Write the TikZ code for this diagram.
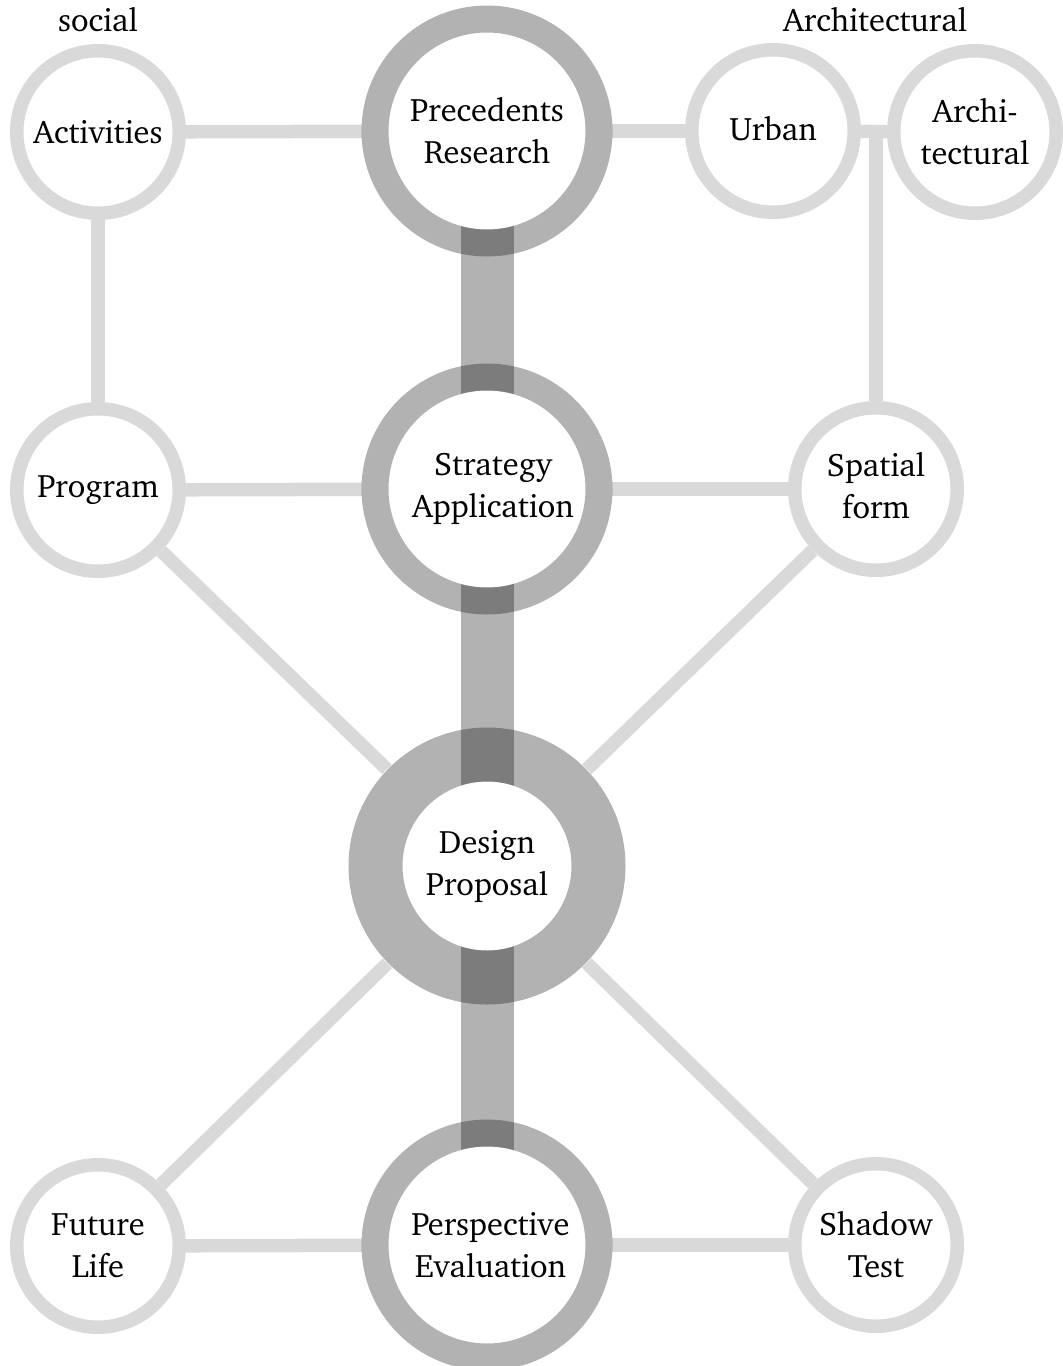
\documentclass[tikz,border=0pt]{standalone}
\usepackage[T1]{fontenc}
\usepackage{charter}
\definecolor{lightg}{HTML}{D9D9D9}
\pgfdeclarelayer{bg}
\pgfsetlayers{bg,main}
\begin{document}
\begin{tikzpicture}[x=1pt,y=-1pt,
  lbl/.style={font=\fontsize{32.5}{42}\selectfont, align=center, text=black},
  smallnode/.style={lbl, circle, minimum size=176, inner sep=0},
  bignode/.style={lbl, circle, minimum size=250, inner sep=0},
  hugenode/.style={lbl, circle, minimum size=278, inner sep=0},
  lightline/.style={draw=lightg, line width=13.5},
  darkbar/.style={draw=black, draw opacity=0.3, line width=53},
  lightring/.style={draw=lightg, line width=13.5},
  darkring/.style={draw=black, draw opacity=0.3, line width=27},
  hugering/.style={draw=black, draw opacity=0.3, line width=54},
  hole/.style={fill=white},
]
\useasboundingbox (0,0) rectangle (1063,1366);
\node[smallnode] (act) at (98,132) {Activities};
\node[bignode] (prec) at (487,131) {Precedents\\Research};
\node[smallnode] (urb) at (773,131) {\raisebox{6pt}{Urban}};
\node[smallnode] (arch) at (975,132) {Archi-\\tectural};
\node[smallnode] (prog) at (98,490) {Program};
\node[bignode] (strat) at (487,489) {\hspace*{12pt}Strategy\\\hspace*{12pt}Application};
\node[smallnode] (spat) at (876,489) {\raisebox{6pt}{\begin{tabular}{@{}c@{}}Spatial\\form\end{tabular}}};
\node[hugenode] (des) at (487,866) {Design\\Proposal};
\node[smallnode] (fut) at (98,1246) {Future\\Life};
\node[bignode] (pers) at (487,1245) {\hspace*{7pt}Perspective\\\hspace*{7pt}Evaluation};
\node[smallnode] (shad) at (876,1245) {Shadow\\Test};
\node[lbl] (soc) at (98,20) {social};
\node[lbl] (archl) at (875,20) {Architectural};
\coordinate (j) at (876,131);
\begin{pgfonlayer}{bg}
  \draw[lightline] (act) -- (prec);
  \draw[lightline] (prec) -- (urb);
  \draw[lightline] (urb) -- (arch);
  \draw[lightline] (j) -- (spat);
  \draw[lightline] (act) -- (prog);
  \draw[lightline] (prog) -- (strat);
  \draw[lightline] (strat) -- (spat);
  \draw[lightline] (prog) -- (des);
  \draw[lightline] (spat) -- (des);
  \draw[lightline] (fut) -- (des);
  \draw[lightline] (shad) -- (des);
  \draw[lightline] (fut) -- (pers);
  \draw[lightline] (pers) -- (shad);
  \draw[darkbar] (prec.center) -- (pers.center);
  \fill[hole] (prec.center) circle[radius=98.5];
  \fill[hole] (strat.center) circle[radius=98.5];
  \fill[hole] (pers.center) circle[radius=98.5];
  \fill[hole] (des.center) circle[radius=84.5];
  \draw[darkring] (prec.center) circle[radius=112];
  \draw[darkring] (strat.center) circle[radius=112];
  \draw[darkring] (pers.center) circle[radius=112];
  \draw[hugering] (des.center) circle[radius=111.5];
  \foreach \n in {act,urb,arch,prog,spat,fut,shad}
    \draw[lightring] (\n.center) circle[radius=81.25];
\end{pgfonlayer}
\end{tikzpicture}
\end{document}
